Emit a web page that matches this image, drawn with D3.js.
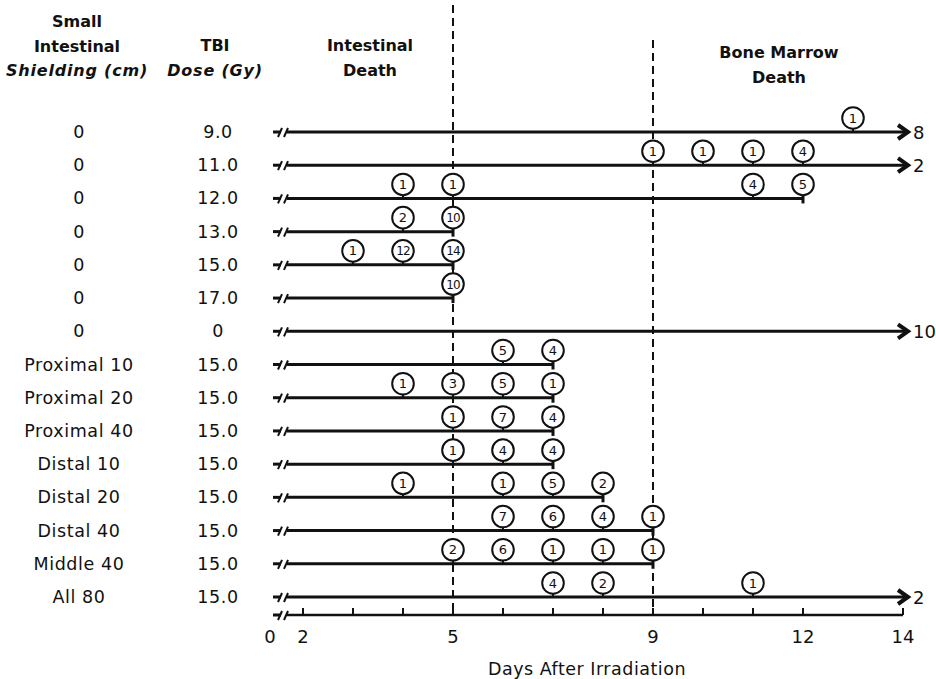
<!DOCTYPE html>
<html>
<head>
<meta charset="utf-8">
<script src="https://cdn.jsdelivr.net/npm/d3@7"></script>
<style>
  html, body { margin: 0; padding: 0; background: #fff; }
  svg { display: block; }
  text { font-family: "DejaVu Sans", "Liberation Sans", sans-serif; fill: #111; }
</style>
</head>
<body>
<svg id="chart" width="936" height="679"></svg>
<script>
// ---- Data ----
const shielding = ["0", "0", "0", "0", "0", "0", "0", "Proximal 10", "Proximal 20", "Proximal 40", "Distal 10", "Distal 20", "Distal 40", "Middle 40", "All 80"];
const doses = ["9.0", "11.0", "12.0", "13.0", "15.0", "17.0", "0", "15.0", "15.0", "15.0", "15.0", "15.0", "15.0", "15.0", "15.0"];
const lastDay = [14, 14, 12, 5, 5, 5, 14, 7, 7, 7, 7, 8, 9, 9, 14];
const survivors = [8, 2, null, null, null, null, 10, null, null, null, null, null, null, null, 2];
// deaths per row: [day, number of animals]
const deaths = [
  [[13, 1]],
  [[9, 1], [10, 1], [11, 1], [12, 4]],
  [[4, 1], [5, 1], [11, 4], [12, 5]],
  [[4, 2], [5, 10]],
  [[3, 1], [4, 12], [5, 14]],
  [[5, 10]],
  [],
  [[6, 5], [7, 4]],
  [[4, 1], [5, 3], [6, 5], [7, 1]],
  [[5, 1], [6, 7], [7, 4]],
  [[5, 1], [6, 4], [7, 4]],
  [[4, 1], [6, 1], [7, 5], [8, 2]],
  [[6, 7], [7, 6], [8, 4], [9, 1]],
  [[5, 2], [6, 6], [7, 1], [8, 1], [9, 1]],
  [[7, 4], [8, 2], [11, 1]]
];
const tickDays = [2, 3, 4, 5, 6, 7, 8, 9, 10, 11, 12, 14];
const tickLabels = [2, 5, 9, 12, 14];
const dashedDays = [5, 9];

// ---- Layout ----
const svg = d3.select("#chart");
const x = d3.scaleLinear().domain([5, 9]).range([453, 653]);
const y = d3.scalePoint().domain(d3.range(shielding.length)).range([132, 597]);
const axisY = 615;
const lineStart = 273;
const ink = "#111";

// headers
const headers = [
  { lines: ["Small", "Intestinal", "Shielding (cm)"], cx: 77, y0: 27, italic: [false, false, true] },
  { lines: ["TBI", "Dose (Gy)"], cx: 215, y0: 51, italic: [false, true] },
  { lines: ["Intestinal", "Death"], cx: 370, y0: 51, italic: [false, false] },
  { lines: ["Bone Marrow", "Death"], cx: 779, y0: 58, italic: [false, false] }
];
headers.forEach(h => {
  h.lines.forEach((t, i) => {
    svg.append("text")
      .attr("x", h.cx).attr("y", h.y0 + i * 24.5)
      .attr("text-anchor", "middle")
      .attr("font-size", 16).attr("font-weight", "bold")
      .attr("letter-spacing", h.italic[i] ? 0.8 : 0)
      .attr("font-style", h.italic[i] ? "italic" : "normal")
      .text(t);
  });
});

// dashed reference lines
svg.selectAll("line.dash").data(dashedDays).enter().append("line")
  .attr("x1", d => x(d)).attr("x2", d => x(d))
  .attr("y1", d => d === 5 ? 5 : 40).attr("y2", axisY - 2)
  .attr("stroke", ink).attr("stroke-width", 2)
  .attr("stroke-dasharray", "8,5");

// break symbol
function breakMark(g, yy) {
  g.append("line").attr("x1", lineStart).attr("x2", lineStart + 8).attr("y1", yy).attr("y2", yy)
    .attr("stroke", ink).attr("stroke-width", 3);
  g.append("line").attr("x1", lineStart + 5).attr("x2", lineStart + 9).attr("y1", yy + 5).attr("y2", yy - 4)
    .attr("stroke", ink).attr("stroke-width", 2);
  g.append("line").attr("x1", lineStart + 11).attr("x2", lineStart + 15).attr("y1", yy + 5).attr("y2", yy - 4)
    .attr("stroke", ink).attr("stroke-width", 2);
}

// rows
shielding.forEach((s, i) => {
  const yy = y(i);
  const g = svg.append("g");
  g.append("text").attr("x", 79).attr("y", yy + 6).attr("text-anchor", "middle")
    .attr("font-size", 17.5).attr("letter-spacing", 0.6).text(s);
  g.append("text").attr("x", 218).attr("y", yy + 6).attr("text-anchor", "middle")
    .attr("font-size", 17.5).attr("letter-spacing", 0.6).text(doses[i]);
  breakMark(g, yy);
  const arrow = survivors[i] !== null;
  const xEnd = arrow ? x(14) + 5 : x(lastDay[i]);
  g.append("line").attr("x1", lineStart + 14).attr("x2", xEnd).attr("y1", yy).attr("y2", yy)
    .attr("stroke", ink).attr("stroke-width", 3);
  if (arrow) {
    g.append("path")
      .attr("d", `M${xEnd - 10},${yy - 7} L${xEnd},${yy} L${xEnd - 10},${yy + 7}`)
      .attr("fill", "none").attr("stroke", ink).attr("stroke-width", 4)
      .attr("stroke-linejoin", "miter");
    g.append("text").attr("x", xEnd + 5).attr("y", yy + 7)
      .attr("font-size", 18).text(survivors[i]);
  } else {
    g.append("line").attr("x1", xEnd).attr("x2", xEnd).attr("y1", yy - 5).attr("y2", yy + 5)
      .attr("stroke", ink).attr("stroke-width", 3);
  }
  const c = g.selectAll("g.death").data(deaths[i]).enter().append("g")
    .attr("transform", d => `translate(${x(d[0])},${yy - 14})`);
  c.append("line").attr("x1", 0).attr("x2", 0).attr("y1", 8).attr("y2", 14)
    .attr("stroke", ink).attr("stroke-width", 2);
  c.append("circle").attr("r", 10.8).attr("fill", "#fff").attr("stroke", ink).attr("stroke-width", 2);
  c.append("text").attr("text-anchor", "middle").attr("y", 4.6)
    .attr("font-size", d => d[1] >= 10 ? 12 : 13)
    .attr("letter-spacing", d => d[1] >= 10 ? -0.8 : 0)
    .text(d => d[1]);
});

// x axis
const ax = svg.append("g");
breakMark(ax, axisY);
ax.append("line").attr("x1", lineStart + 14).attr("x2", x(14)).attr("y1", axisY).attr("y2", axisY)
  .attr("stroke", ink).attr("stroke-width", 2.5);
ax.selectAll("line.tick").data(tickDays).enter().append("line")
  .attr("x1", d => x(d)).attr("x2", d => x(d))
  .attr("y1", axisY).attr("y2", axisY - 7)
  .attr("stroke", ink).attr("stroke-width", 2);
ax.selectAll("text.tl").data(tickLabels).enter().append("text")
  .attr("x", d => x(d)).attr("y", axisY + 28).attr("text-anchor", "middle")
  .attr("font-size", 18).text(d => d);
ax.append("text").attr("x", 270).attr("y", axisY + 28).attr("text-anchor", "middle")
  .attr("font-size", 18).text("0");
svg.append("text").attr("x", 587).attr("y", 675).attr("text-anchor", "middle")
  .attr("font-size", 17.5).attr("letter-spacing", 0.5).text("Days After Irradiation");
</script>
</body>
</html>
